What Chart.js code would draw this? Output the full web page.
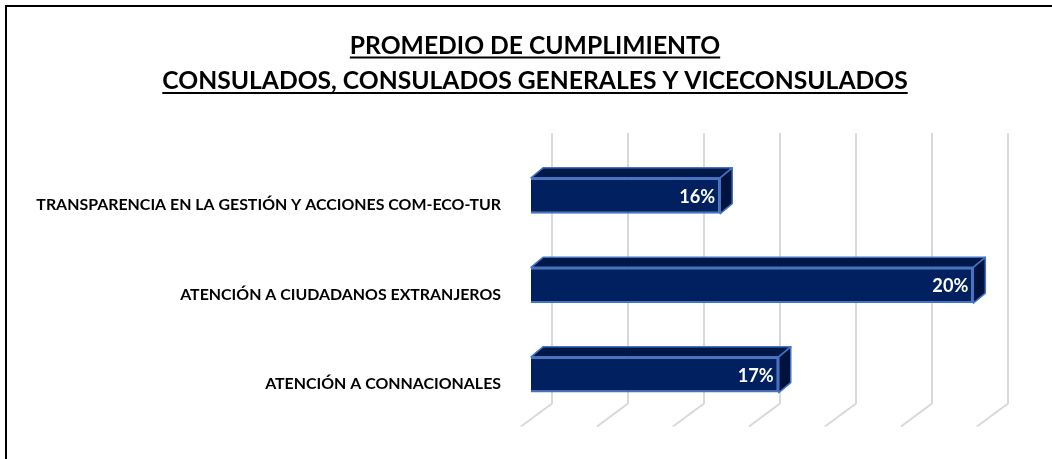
<!DOCTYPE html>
<html>
<head>
<meta charset="utf-8">
<script src="https://cdn.jsdelivr.net/npm/chart.js@4"></script>
<style>
  html, body { margin: 0; padding: 0; background: #fff; }
  canvas { display: block; }
</style>
</head>
<body>
<canvas id="chart" width="1052" height="459"></canvas>
<script>
// data
const categories = [
    'TRANSPARENCIA EN LA GESTIÓN Y ACCIONES COM-ECO-TUR',
    'ATENCIÓN A CIUDADANOS EXTRANJEROS',
    'ATENCIÓN A CONNACIONALES'
];
const values = [16.49, 19.82, 17.26];
const gridValues = [14, 15, 16, 17, 18, 19, 20];
const titleLines = ['PROMEDIO DE CUMPLIMIENTO', 'CONSULADOS, CONSULADOS GENERALES Y VICECONSULADOS'];

const FONT = 'Lato, "Open Sans", sans-serif';

// pick font sizes so text widths come close to the original
function fitSize(text, target) {
    const c = document.createElement('canvas').getContext('2d');
    c.font = 'bold 100px ' + FONT;
    return 100 * target / c.measureText(text).width;
}
const labelSize = fitSize(categories[0], 465);
const titleSize = fitSize(titleLines[1], 746);
const valueSize = fitSize('16%', 36);

const depthX = 12, depthY = -10;

const frame = {
    id: 'frame',
    afterDraw(chart) {
        const ctx = chart.ctx;
        ctx.save();
        ctx.fillStyle = '#000';
        ctx.fillRect(5, 5, 2, 454);
        ctx.fillRect(5, 5, 1047, 2);

        // title, centered and underlined
        ctx.font = 'bold ' + titleSize + 'px ' + FONT;
        ctx.textAlign = 'center';
        ctx.textBaseline = 'alphabetic';
        const cx = 535;
        const baselines = [53.5, 89];
        titleLines.forEach((t, i) => {
            ctx.fillText(t, cx, baselines[i]);
            const w = ctx.measureText(t).width;
            ctx.fillRect(cx - w / 2, baselines[i] + 3, w, 2);
        });
        ctx.restore();
    }
};

const grid3d = {
    id: 'grid3d',
    beforeDatasetsDraw(chart) {
        const ctx = chart.ctx;
        const xs = chart.scales.x;
        const a = chart.chartArea;
        ctx.save();
        ctx.strokeStyle = '#D9D9D9';
        ctx.lineWidth = 2;
        gridValues.forEach(v => {
            const xf = xs.getPixelForValue(v);
            ctx.beginPath();
            ctx.moveTo(xf + 21, a.top - 18);
            ctx.lineTo(xf + 21, a.bottom - 16);
            ctx.lineTo(xf - 10, a.bottom + 7);
            ctx.stroke();
        });
        ctx.restore();
    }
};

const bars3d = {
    id: 'bars3d',
    afterDatasetsDraw(chart) {
        const ctx = chart.ctx;
        const meta = chart.getDatasetMeta(0);
        const left = chart.chartArea.left;
        ctx.save();
        ctx.lineWidth = 1.5;
        ctx.strokeStyle = '#4472C4';
        ctx.lineJoin = 'round';
        meta.data.forEach((el, i) => {
            const p = el.getProps(['x', 'y', 'base', 'height'], true);
            const base = Math.max(p.base, left);
            const top = p.y - p.height / 2;
            const bottom = p.y + p.height / 2;

            // top face
            ctx.beginPath();
            ctx.moveTo(base, top);
            ctx.lineTo(base + depthX, top + depthY);
            ctx.lineTo(p.x + depthX, top + depthY);
            ctx.lineTo(p.x, top);
            ctx.closePath();
            ctx.fillStyle = '#001848';
            ctx.fill();
            ctx.stroke();

            // side face
            ctx.beginPath();
            ctx.moveTo(p.x, top);
            ctx.lineTo(p.x + depthX, top + depthY);
            ctx.lineTo(p.x + depthX, bottom + depthY);
            ctx.lineTo(p.x, bottom);
            ctx.closePath();
            ctx.fillStyle = '#00133C';
            ctx.fill();
            ctx.stroke();

            // value label
            ctx.fillStyle = '#fff';
            ctx.font = 'bold ' + valueSize + 'px ' + FONT;
            ctx.textAlign = 'right';
            ctx.textBaseline = 'middle';
            ctx.fillText(Math.round(values[i]) + '%', p.x - 5, p.y + 1);
        });
        ctx.restore();
    }
};

new Chart(document.getElementById('chart'), {
    type: 'bar',
    data: {
        labels: categories,
        datasets: [{
            data: values,
            backgroundColor: '#002060',
            borderColor: '#4472C4',
            borderWidth: 2,
            borderSkipped: false,
            barPercentage: 0.4,
            categoryPercentage: 1
        }]
    },
    options: {
        indexAxis: 'y',
        responsive: false,
        animation: false,
        layout: { padding: { top: 151, bottom: 38, left: 0, right: 65 } },
        plugins: {
            legend: { display: false },
            tooltip: { enabled: false }
        },
        scales: {
            x: { display: false, min: 14, max: 20 },
            y: {
                grid: { display: false, drawTicks: false },
                border: { display: false },
                ticks: {
                    color: '#000',
                    padding: 30,
                    labelOffset: 9.5,
                    font: { family: FONT, size: labelSize, weight: 'bold' }
                },
                afterFit(scale) { scale.width = 531; }
            }
        }
    },
    plugins: [grid3d, bars3d, frame]
});
</script>
</body>
</html>
